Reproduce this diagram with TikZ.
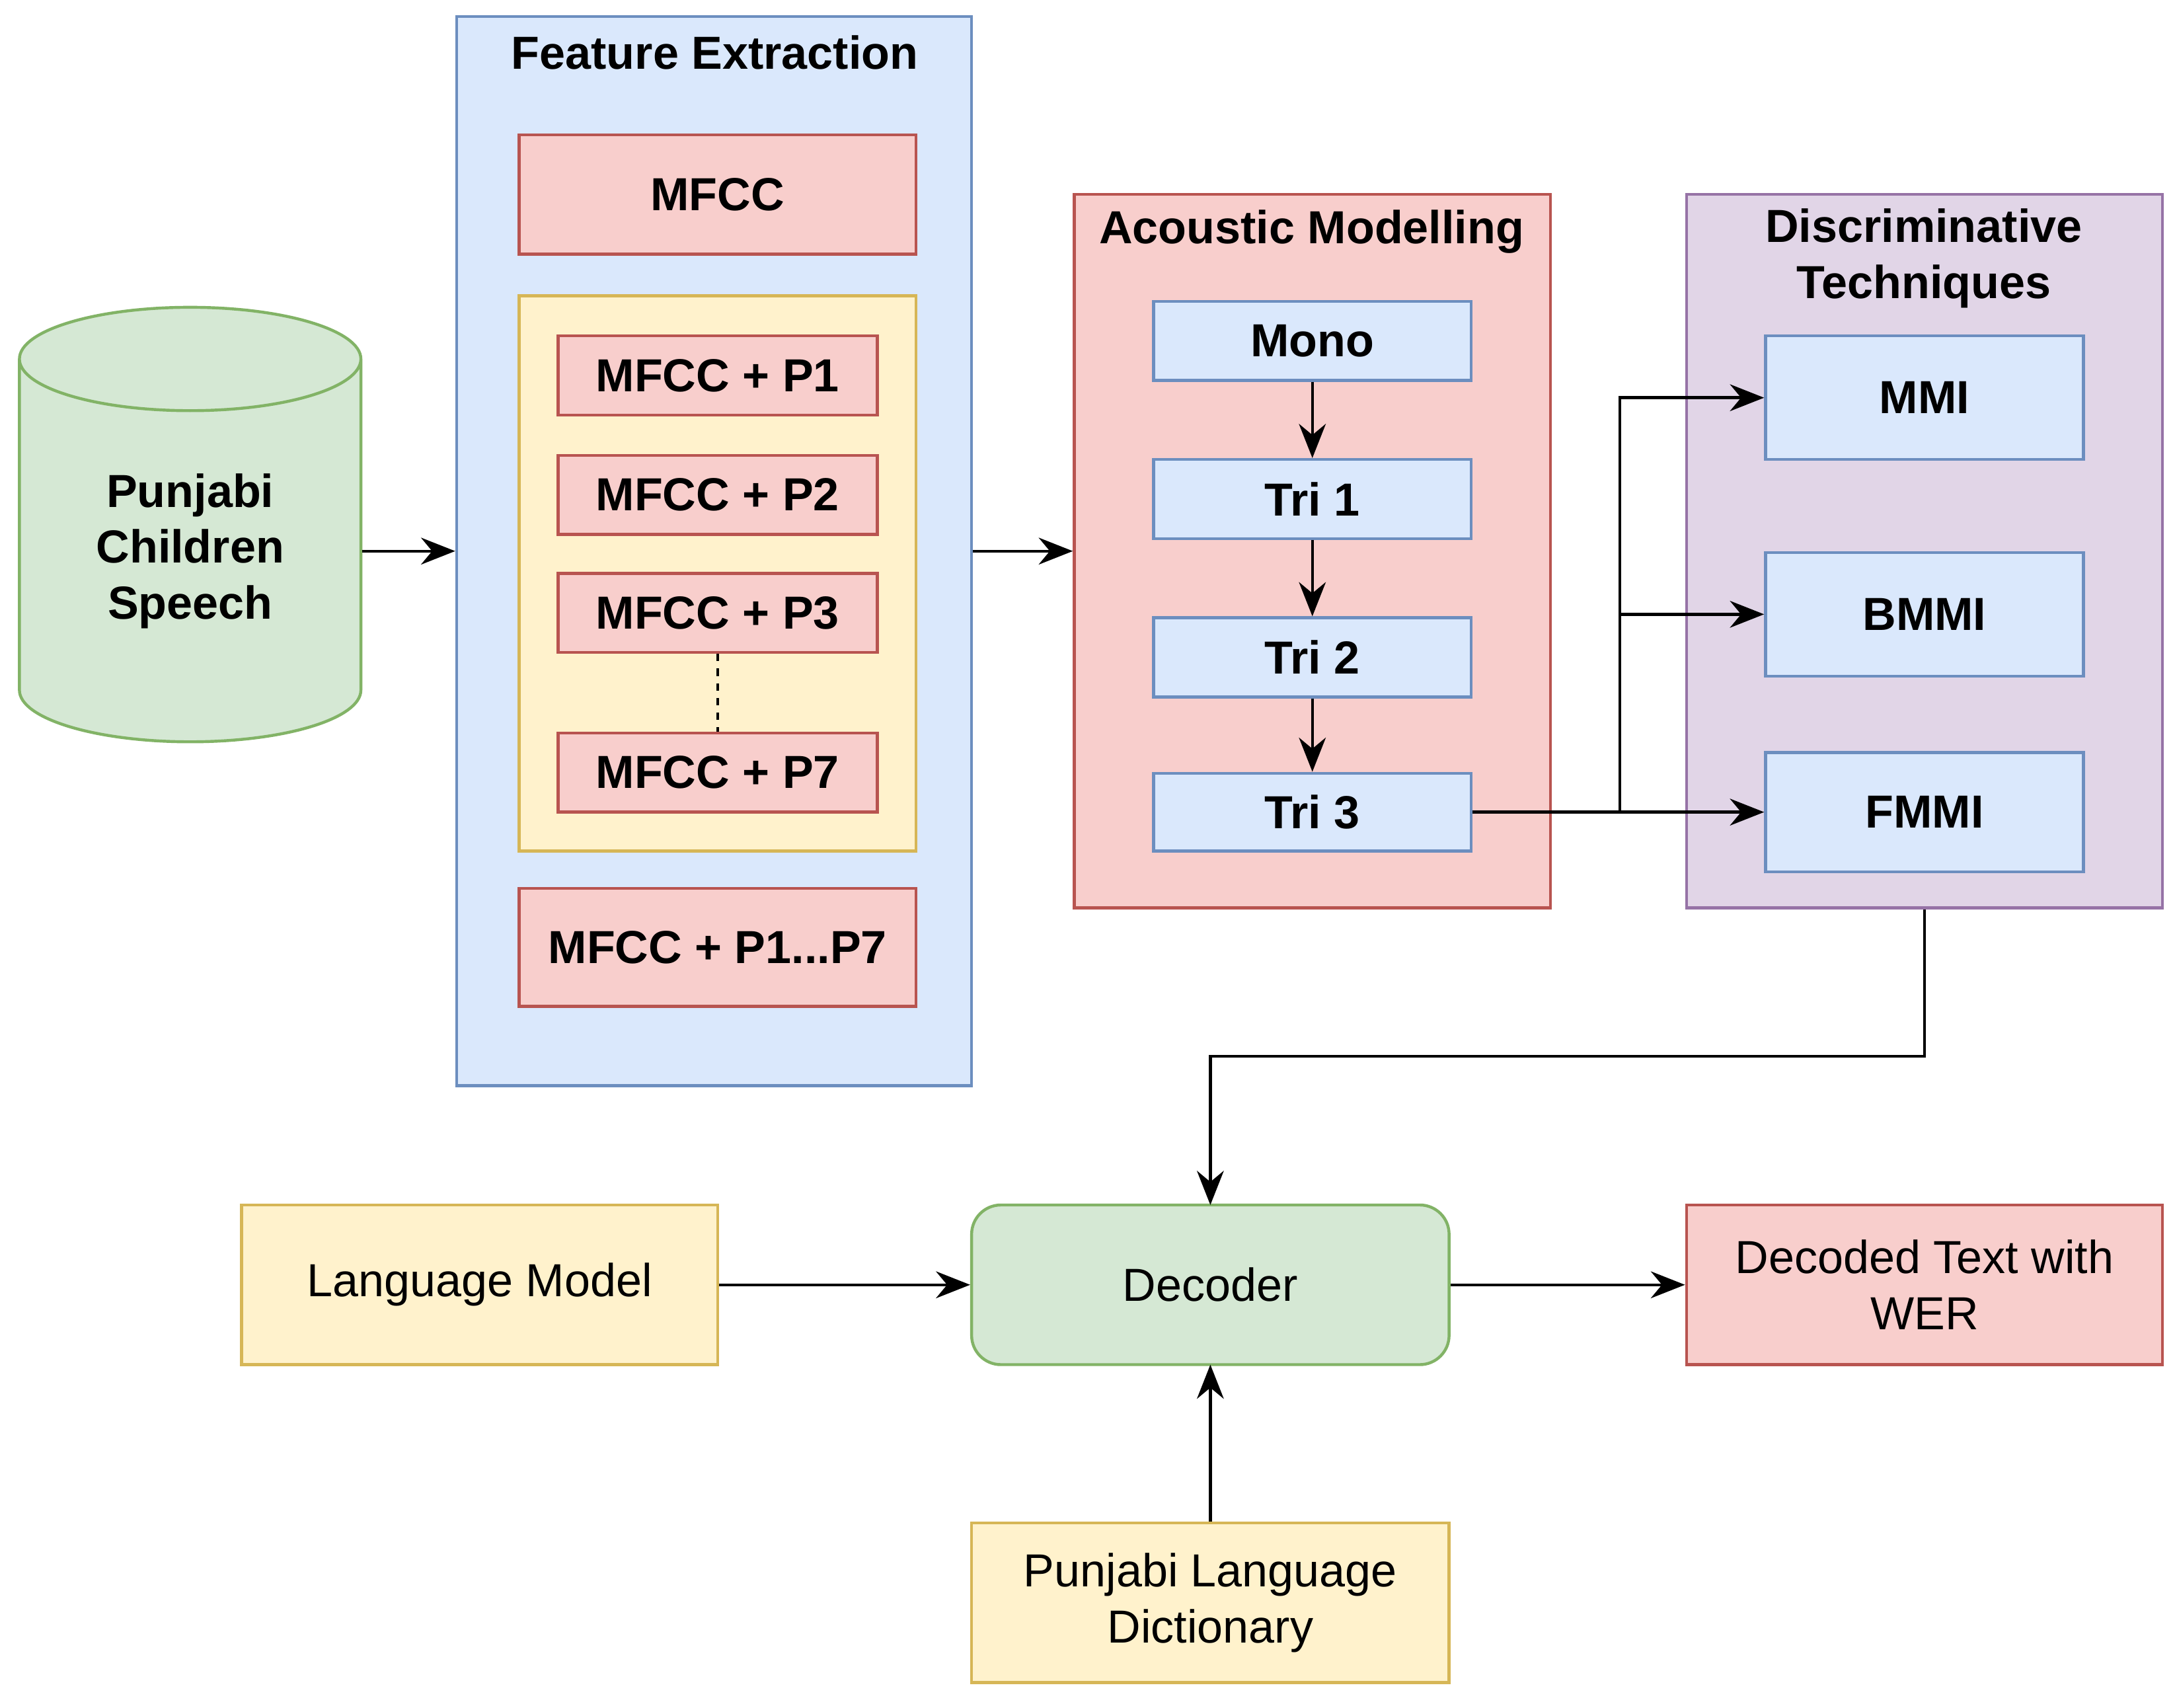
\documentclass[tikz,border=0pt]{standalone}
\usepackage{fontspec}
\setmainfont{Liberation Sans}
\usetikzlibrary{shapes.geometric,arrows.meta}
\definecolor{bF}{HTML}{DAE8FC}\definecolor{bS}{HTML}{6C8EBF}
\definecolor{rF}{HTML}{F8CECC}\definecolor{rS}{HTML}{B85450}
\definecolor{yF}{HTML}{FFF2CC}\definecolor{yS}{HTML}{D6B656}
\definecolor{gF}{HTML}{D5E8D4}\definecolor{gS}{HTML}{82B366}
\definecolor{pF}{HTML}{E1D5E7}\definecolor{pS}{HTML}{9673A6}
\newcommand\mybox[7]{\node[#6,minimum width={(#4-#2)*0.02cm},minimum height={(#5-#3)*0.02cm}] (#1) at ({(#2+#4)/2},{(#3+#5)/2}) {#7};}
\begin{document}
\begin{tikzpicture}[x=0.02cm,y=-0.02cm,
  every node/.style={font=\fontsize{19}{23}\selectfont, inner sep=0pt, align=center},
  bx/.style={draw, line width=1.2pt},
  blue/.style={bx,fill=bF,draw=bS,font=\fontsize{19}{23}\selectfont\bfseries},
  red/.style={bx,fill=rF,draw=rS,font=\fontsize{19}{23}\selectfont\bfseries},
  yel/.style={bx,fill=yF,draw=yS},
  grn/.style={bx,fill=gF,draw=gS},
  pur/.style={bx,fill=pF,draw=pS},
  title/.style={font=\fontsize{19}{23}\selectfont\bfseries},
  arr/.style={line width=1.2pt,-{Stealth[length=14pt,width=11pt]}},
  ln/.style={line width=1.2pt}]
\useasboundingbox (0,0) rectangle (1567,1230);
% cylinder
\node[shape=cylinder, shape border rotate=90, aspect=0.55, draw=gS, fill=gF, line width=1.2pt,
  minimum width={246*0.02cm}, minimum height={313*0.02cm}, font=\fontsize{19}{23}\selectfont\bfseries] (cyl) at (137,397) {Punjabi\\Children\\Speech};
% feature extraction
\mybox{fe}{329}{12}{700}{782}{blue}{}
\node[title] (fet) at (515,38) {Feature Extraction};
\mybox{mfcc}{374}{97}{660}{183}{red}{MFCC}
\mybox{yb}{374}{213}{660}{613}{yel}{}
\mybox{p1}{402}{242}{632}{299}{red}{MFCC + P1}
\mybox{p2}{402}{328}{632}{385}{red}{MFCC + P2}
\mybox{p3}{402}{413}{632}{470}{red}{MFCC + P3}
\mybox{p7}{402}{528}{632}{585}{red}{MFCC + P7}
\draw[ln,dashed,line width=1pt] (p3) -- (p7);
\mybox{pall}{374}{640}{660}{725}{red}{MFCC + P1...P7}
% acoustic
\mybox{am}{774}{140}{1117}{654}{red}{}
\node[title] (amt) at (945,167) {Acoustic Modelling};
\mybox{mono}{831}{217}{1060}{274}{blue}{Mono}
\mybox{t1}{831}{331}{1060}{388}{blue}{Tri 1}
\mybox{t2}{831}{445}{1060}{502}{blue}{Tri 2}
\mybox{t3}{831}{557}{1060}{613}{blue}{Tri 3}
\draw[arr] (mono) -- (t1);
\draw[arr] (t1) -- (t2);
\draw[arr] (t2) -- (t3);
% discriminative
\mybox{dt}{1215}{140}{1558}{654}{pur}{}
\node[title] (dtt) at (1386,186) {Discriminative\\Techniques};
\mybox{mmi}{1272}{242}{1501}{331}{blue}{MMI}
\mybox{bmmi}{1272}{398}{1501}{487}{blue}{BMMI}
\mybox{fmmi}{1272}{542}{1501}{628}{blue}{FMMI}
\coordinate (br) at (1167,585);
\draw[arr] (t3.east) -- (fmmi.west);
\draw[arr] (br) |- (mmi.west);
\draw[arr] (br) |- (bmmi.west);
% bottom
\mybox{dec}{700}{868}{1044}{983}{grn,rounded corners=12pt}{Decoder}
\mybox{lm}{174}{868}{517}{983}{yel}{Language Model}
\mybox{out}{1215}{868}{1558}{983}{red,font=\fontsize{19}{23}\selectfont}{Decoded Text with\\WER}
\mybox{dict}{700}{1097}{1044}{1212}{yel}{Punjabi Language\\Dictionary}
\draw[arr] (cyl.east) -- (fe.west|-cyl.east);
\draw[arr] (fe.east|-cyl.east) -- (am.west|-cyl.east);
\draw[arr] (dt.south) |- (872,761) -- (872,868);
\draw[arr] (lm) -- (dec);
\draw[arr] (dec) -- (out);
\draw[arr] (dict.north-|872,0) -- (872,983);
\end{tikzpicture}
\end{document}
